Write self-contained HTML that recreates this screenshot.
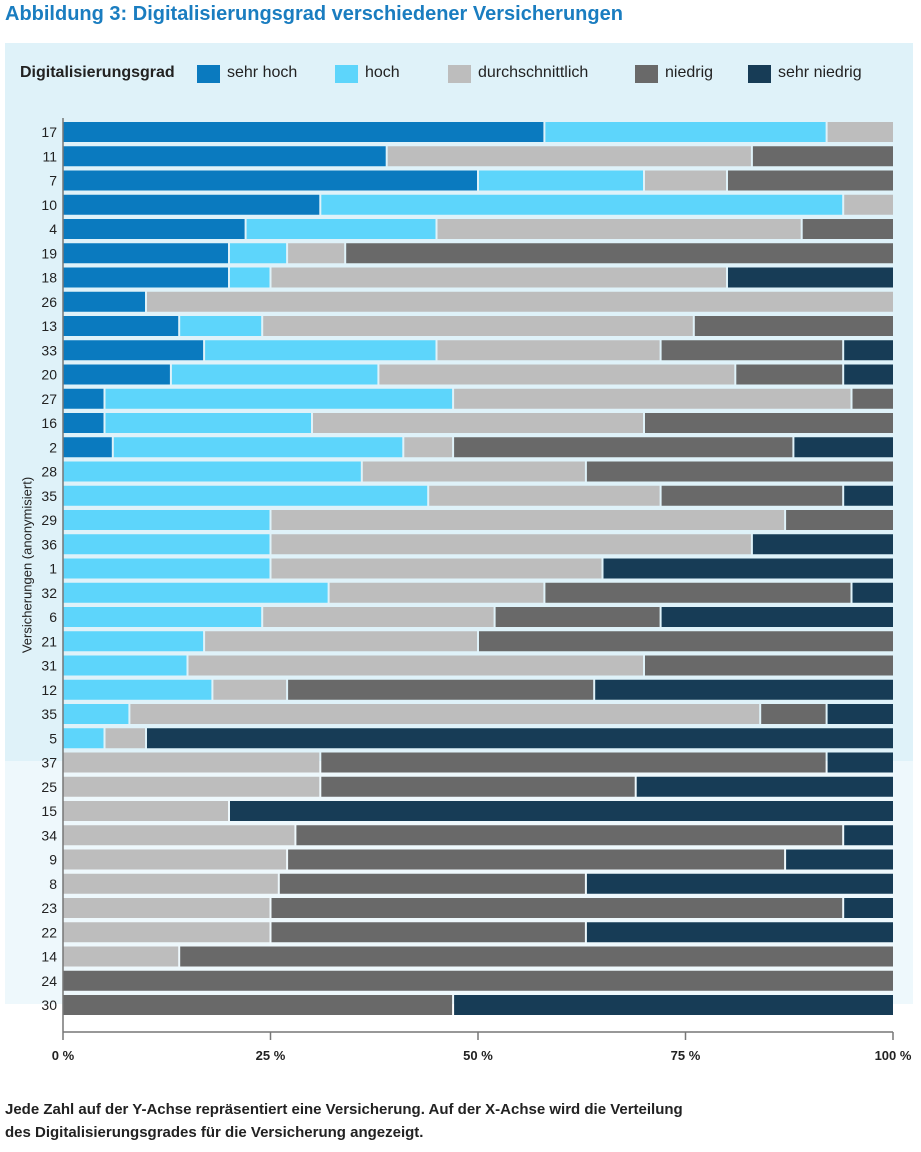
<!DOCTYPE html>
<html><head><meta charset="utf-8"><style>
body{margin:0;width:921px;height:1152px;background:#fff;font-family:"Liberation Sans",sans-serif;position:relative;overflow:hidden}
.t{position:absolute;white-space:nowrap}
</style></head><body>
<div class="t" style="left:5px;top:3px;font-size:20px;font-weight:bold;color:#1a7dc0">Abbildung 3: Digitalisierungsgrad verschiedener Versicherungen</div>
<div style="position:absolute;left:5px;top:43px;width:908px;height:718px;background:#dff2f9"></div>
<div style="position:absolute;left:5px;top:761px;width:908px;height:243px;background:#eef8fc"></div>
<div class="t" style="left:20px;top:64px;font-size:16px;font-weight:bold;color:#222">Digitalisierungsgrad</div>
<div id="legend"></div>
<div class="t" style="left:27px;top:565px;font-size:13px;color:#222;transform:translate(-50%,-50%) rotate(-90deg)">Versicherungen (anonymisiert)</div>
<svg id="chart" width="921" height="1152" style="position:absolute;left:0;top:0"></svg>
<div class="t" style="left:5px;top:1098px;font-size:15px;font-weight:bold;color:#222;line-height:23px">Jede Zahl auf der Y-Achse repräsentiert eine Versicherung. Auf der X-Achse wird die Verteilung<br>des Digitalisierungsgrades für die Versicherung angezeigt.</div>
<script>
const categories=["17","11","7","10","4","19","18","26","13","33","20","27","16","2","28","35","29","36","1","32","6","21","31","12","35","5","37","25","15","34","9","8","23","22","14","24","30"];
const seriesNames=["sehr hoch","hoch","durchschnittlich","niedrig","sehr niedrig"];
const sehrHoch=[58,39,50,31,22,20,20,10,14,17,13,5,5,6,0,0,0,0,0,0,0,0,0,0,0,0,0,0,0,0,0,0,0,0,0,0,0];
const hoch=[34,0,20,63,23,7,5,0,10,28,25,42,25,35,36,44,25,25,25,32,24,17,15,18,8,5,0,0,0,0,0,0,0,0,0,0,0];
const durch=[8,44,10,6,44,7,55,90,52,27,43,48,40,6,27,28,62,58,40,26,28,33,55,9,76,5,31,31,20,28,27,26,25,25,14,0,0];
const niedrig=[0,17,20,0,11,66,0,0,24,22,13,5,30,41,37,22,13,0,0,37,20,50,30,37,8,0,61,38,0,66,60,37,69,38,86,100,47];
const sehrNiedrig=[0,0,0,0,0,0,20,0,0,6,6,0,0,12,0,6,0,17,35,5,28,0,0,36,8,90,8,31,80,6,13,37,6,37,0,0,53];
const tickLabels=["0 %","25 %","50 %","75 %","100 %"];
const tickValues=[0,25,50,75,100];
const colors=["#0a7abf","#5dd5fb","#bdbdbd","#696969","#173c56"];
const NS="http://www.w3.org/2000/svg";
const svg=document.getElementById('chart');
const x0=63,x1=893,y0=132,pitch=24.25,bh=20;
const xs=v=>x0+(x1-x0)*v/100;
const ys=i=>y0+i*pitch;
function mk(t,a){const e=document.createElementNS(NS,t);for(const k in a)e.setAttribute(k,a[k]);svg.appendChild(e);return e;}
const series=[sehrHoch,hoch,durch,niedrig,sehrNiedrig];
categories.forEach((c,i)=>{
  let acc=0;
  series.forEach((s,j)=>{
    const v=s[i];if(!v)return;
    const r=mk('rect',{x:xs(acc)+(acc>0?1:0),y:ys(i)-bh/2,width:Math.max(0,xs(acc+v)-xs(acc)-(acc>0?1:0)-(acc+v<100?1:0)),height:bh,fill:colors[j]});
    
    
    acc+=v;
  });
  const t=mk('text',{x:57,y:ys(i)+5,'text-anchor':'end','font-size':14,fill:'#222','font-family':'Liberation Sans'});
  t.textContent=c;
  
  
});
const ax=mk('line',{x1:x0,y1:118,x2:x0,y2:1032,stroke:'#777','stroke-width':1.5});


const bx=mk('line',{x1:x0,y1:1032,x2:x1,y2:1032,stroke:'#777','stroke-width':1.5});


tickValues.forEach((v,k)=>{
  const tk=mk('line',{x1:xs(v),y1:1032,x2:xs(v),y2:1040,stroke:'#777','stroke-width':1.5});
  
  
  const t=mk('text',{x:xs(v),y:1060,'text-anchor':'middle','font-size':13,'font-weight':'bold',fill:'#222','font-family':'Liberation Sans'});
  t.textContent=tickLabels[k];
  
  
});
const lx=[197,335,448,635,748];
const lg=document.getElementById('legend');
seriesNames.forEach((n,j)=>{
  const sw=document.createElement('div');
  sw.className='t';
  sw.style.cssText='left:'+lx[j]+'px;top:65px;width:23px;height:18px;background:'+colors[j];
  
  
  lg.appendChild(sw);
  const tx=document.createElement('div');
  tx.className='t';
  tx.style.cssText='left:'+(lx[j]+30)+'px;top:64px;font-size:16px;color:#222';
  tx.textContent=n;
  
  
  lg.appendChild(tx);
});
</script>
</body></html>
